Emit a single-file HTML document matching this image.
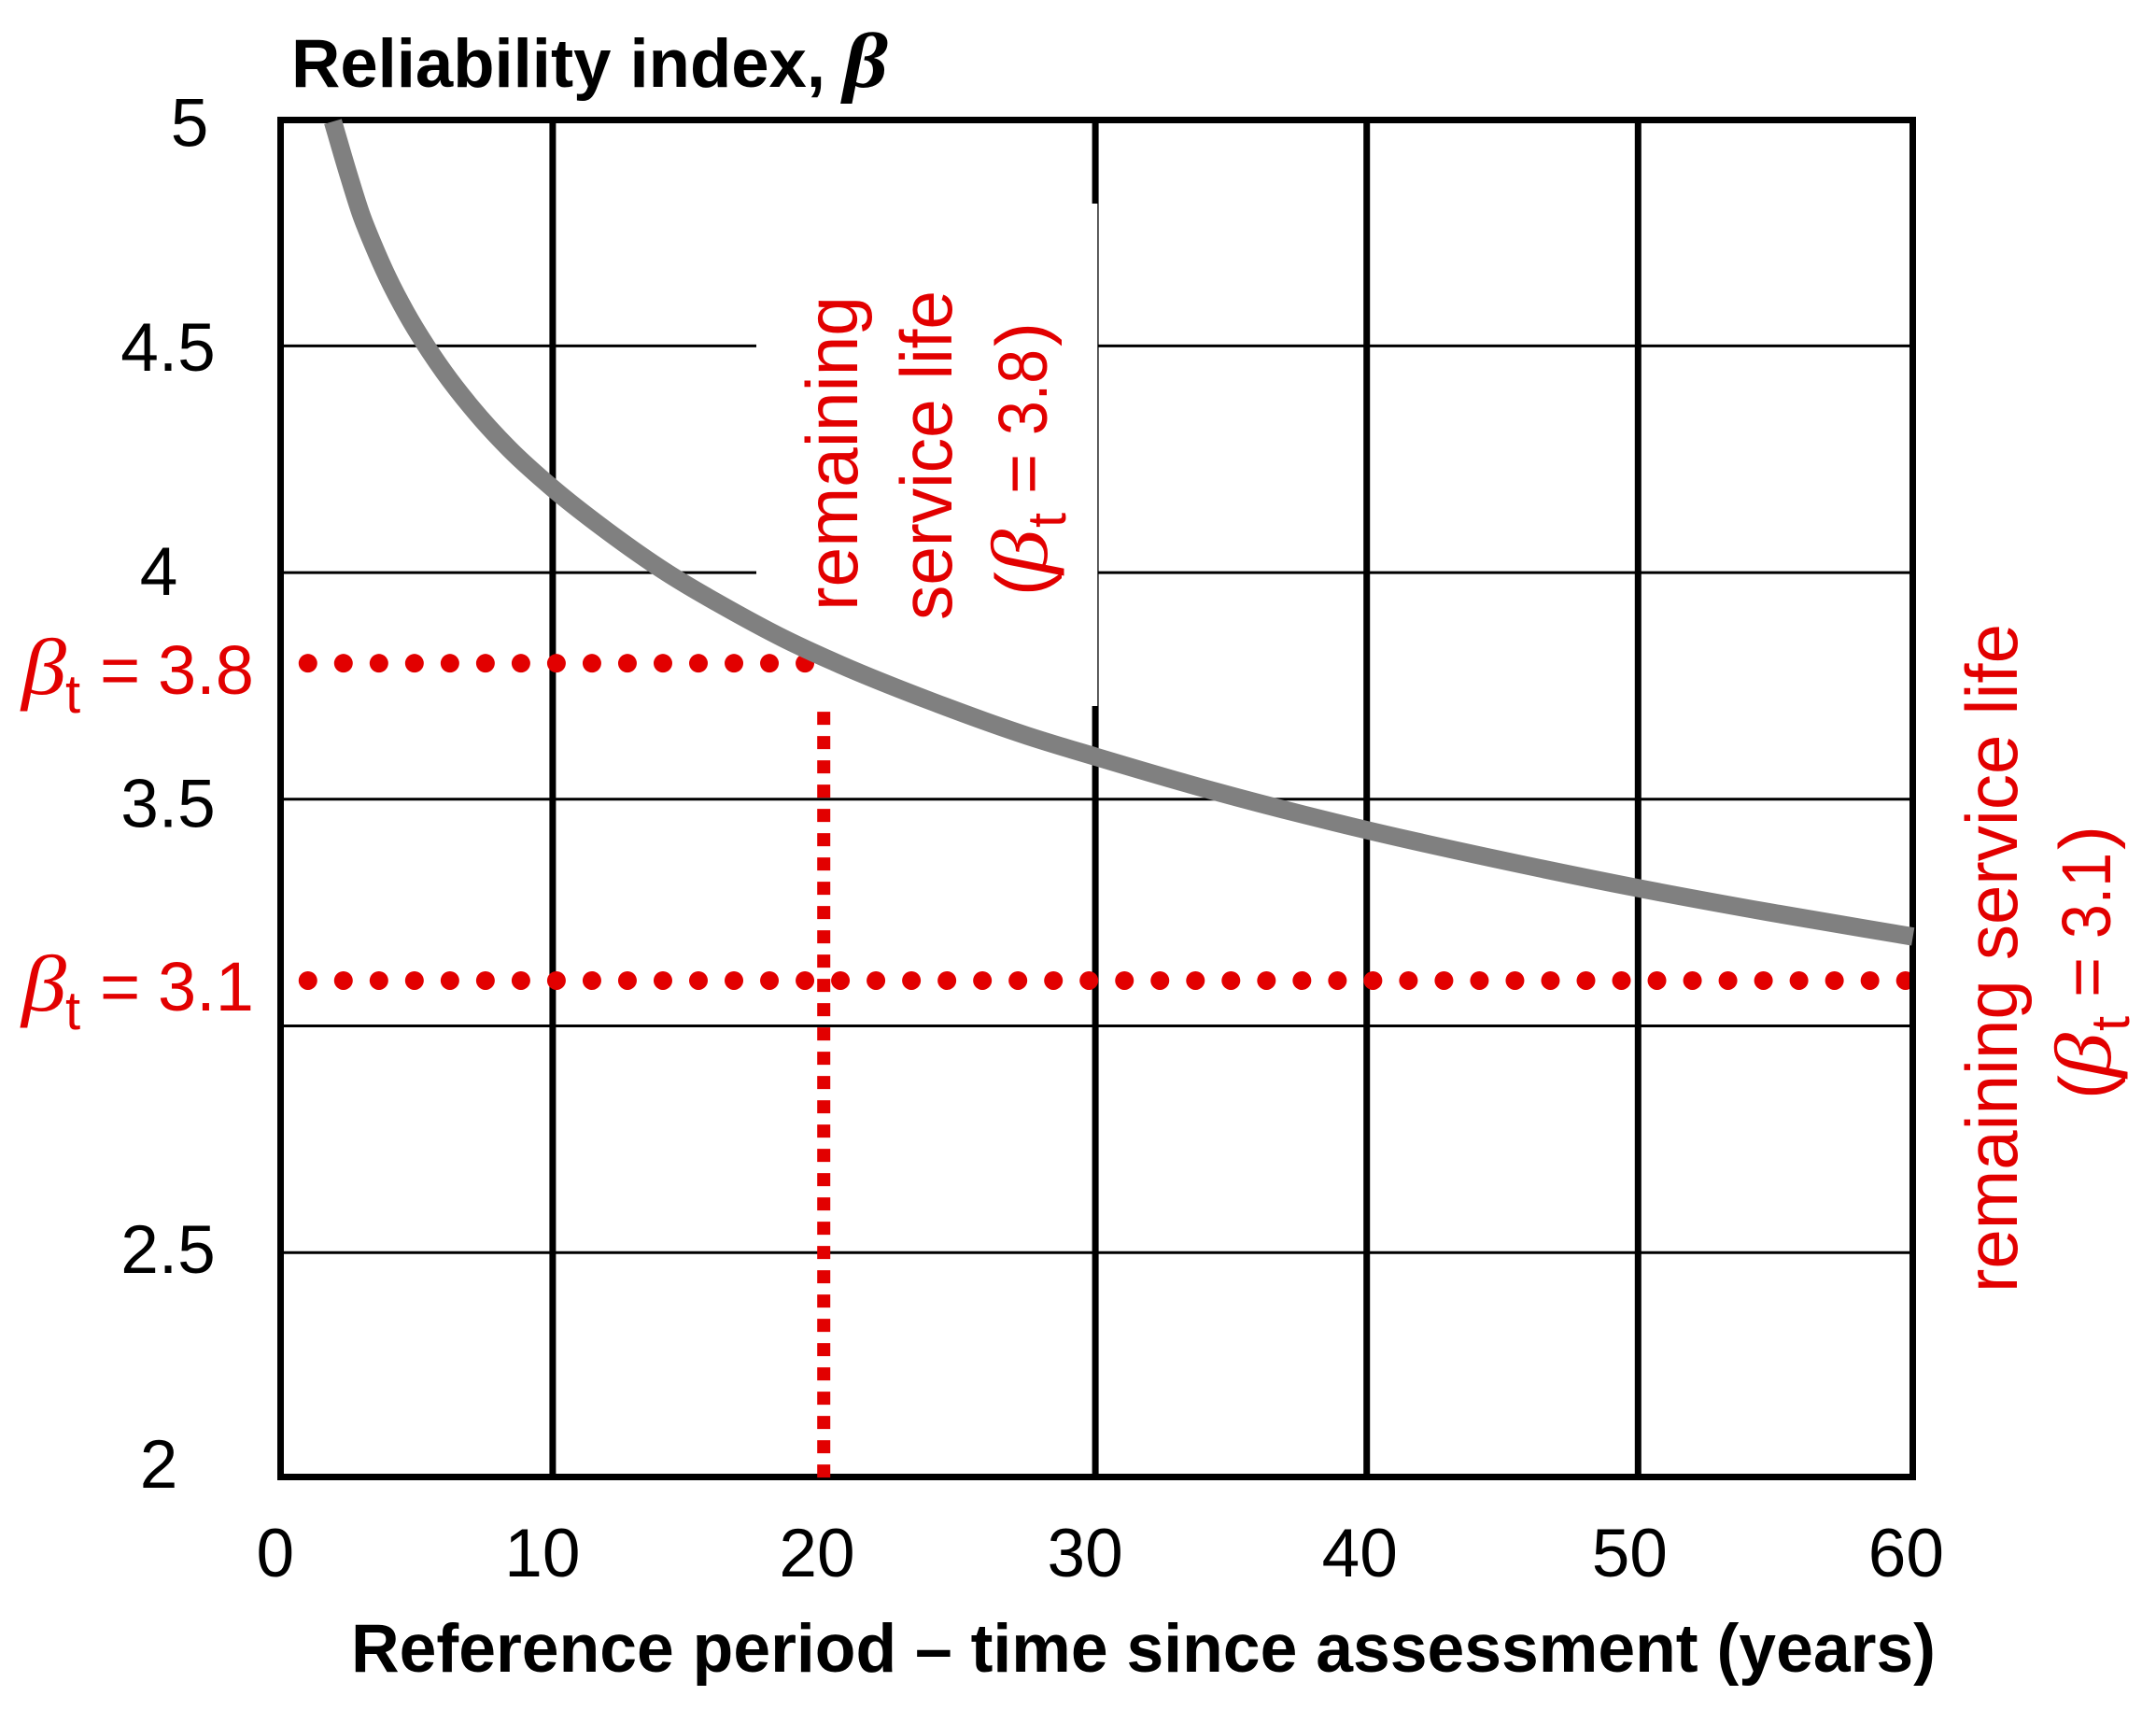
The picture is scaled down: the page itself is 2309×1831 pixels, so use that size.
<!DOCTYPE html>
<html lang="en">
<head>
<meta charset="utf-8">
<title>Reliability index chart</title>
<style>
html,body{margin:0;padding:0;background:#fff;}
svg{display:block;}
text{font-family:"Liberation Sans",sans-serif;}
.tick{font-size:73px;fill:#000;}
.title{font-size:73px;font-weight:bold;fill:#000;}
.red{fill:#e20000;}
.lab{font-size:74px;}
.rot{font-size:78px;}
.beta{font-family:"Liberation Serif",serif;font-style:italic;}
</style>
</head>
<body>
<svg id="chart" xmlns="http://www.w3.org/2000/svg" width="2309" height="1831" viewBox="0 0 2309 1831">
  <rect x="0" y="0" width="2309" height="1831" fill="#fff"/>
  <g id="grid-h"></g>
  <g id="grid-v"></g>
  <rect x="810" y="218" width="365.3" height="538" fill="#fff"/>
  <g id="thresholds"></g>
  <rect x="300.5" y="128.5" width="1748" height="1453" fill="none" stroke="#000" stroke-width="7"/>
  <g id="ticks"></g>
  <path id="drop" fill="none" stroke="#e20000" stroke-width="14" stroke-dasharray="14 12"/>
  <path id="curve" fill="none" stroke="#808080" stroke-width="19.5" stroke-linejoin="round"/>

  <g>
    <text class="title" x="312" y="93" textLength="572" lengthAdjust="spacingAndGlyphs">Reliability index,</text>
    <text class="beta" x="903" y="93" font-size="84" font-weight="bold" fill="#000" textLength="48" lengthAdjust="spacingAndGlyphs">β</text>
  </g>
  <text class="title" x="376" y="1790" textLength="1697" lengthAdjust="spacingAndGlyphs">Reference period – time since assessment (years)</text>

  <g>
    <text class="red beta" x="23" y="743" font-size="86" textLength="48" lengthAdjust="spacingAndGlyphs">β</text>
    <text class="red" x="70" y="763" font-size="58">t</text>
    <text class="red lab" x="107" y="743">=</text>
    <text class="red lab" x="169" y="743">3.8</text>
  </g>
  <g>
    <text class="red beta" x="23" y="1082" font-size="86" textLength="48" lengthAdjust="spacingAndGlyphs">β</text>
    <text class="red" x="70" y="1102" font-size="58">t</text>
    <text class="red lab" x="107" y="1082">=</text>
    <text class="red lab" x="169" y="1082">3.1</text>
  </g>

  <text class="red rot" transform="translate(918,654) rotate(-90)" textLength="337" lengthAdjust="spacingAndGlyphs">remaining</text>
  <text class="red rot" transform="translate(1019,664) rotate(-90)" textLength="353" lengthAdjust="spacingAndGlyphs">service life</text>
  <g transform="translate(1121,633) rotate(-90)">
    <text class="red rot" x="-5" y="0">(</text>
    <text class="red beta" x="18" y="0" font-size="86" textLength="48" lengthAdjust="spacingAndGlyphs">β</text>
    <text class="red" x="68" y="20" font-size="58">t</text>
    <text class="red lab" x="104" y="0">=</text>
    <text class="red lab" x="167" y="0" textLength="92" lengthAdjust="spacingAndGlyphs">3.8</text>
    <text class="red rot" x="262" y="0">)</text>
  </g>

  <text class="red rot" transform="translate(2160,1384) rotate(-90)" textLength="716" lengthAdjust="spacingAndGlyphs">remaining service life</text>
  <g transform="translate(2260,1172) rotate(-90)">
    <text class="red rot" x="-5" y="0">(</text>
    <text class="red beta" x="18" y="0" font-size="86" textLength="48" lengthAdjust="spacingAndGlyphs">β</text>
    <text class="red" x="68" y="20" font-size="58">t</text>
    <text class="red lab" x="104" y="0">=</text>
    <text class="red lab" x="167" y="0" textLength="92" lengthAdjust="spacingAndGlyphs">3.1</text>
    <text class="red rot" x="262" y="0">)</text>
  </g>
</svg>
<script>
const years = [1.9, 2.49, 2.94, 3.4, 3.92, 4.6, 5.34, 6, 7, 8.4, 10, 12, 14.2, 16.59, 18.5, 20.6, 24, 27.49, 30, 34.37, 40, 44.7, 50, 54.8, 60.13];
const betaValues = [4.995, 4.875, 4.79, 4.721, 4.651, 4.573, 4.5, 4.442, 4.365, 4.273, 4.186, 4.092, 4.0, 3.916, 3.855, 3.797, 3.715, 3.64, 3.594, 3.518, 3.432, 3.369, 3.304, 3.251, 3.197];
const xTicks = [0, 10, 20, 30, 40, 50, 60];
const xTickLabels = ['0', '10', '20', '30', '40', '50', '60'];
const yTicks = [5, 4.5, 4, 3.5, 2.5, 2];
const yTickLabels = ['5', '4.5', '4', '3.5', '2.5', '2'];
const yGrid = [4.5, 4, 3.5, 3, 2.5];
const xGrid = [10, 30, 40, 50];
const targetBetas = [3.8, 3.1];
const targetEndYears = [19.3, 59.9];
const remainingLifeYears = 19.99;
const targetStartYear = 0.98;

const NS = 'http://www.w3.org/2000/svg';
function xScale(t) { return 301.3 + t * 29.06; }
function yScale(b) { return 127.7 + (5 - b) * 485.4; }
function make(tag, parent) {
  const el = document.createElementNS(NS, tag);
  parent.appendChild(el);
  return el;
}

const gridH = document.getElementById('grid-h');
yGrid.forEach(function (v) {
  const l = make('line', gridH);
  
  
  l.setAttribute('x1', xScale(0));
  l.setAttribute('x2', 2048);
  l.setAttribute('y1', yScale(v));
  l.setAttribute('y2', yScale(v));
  l.setAttribute('stroke', '#000');
  l.setAttribute('stroke-width', '3');
});

const gridV = document.getElementById('grid-v');
xGrid.forEach(function (v) {
  const l = make('line', gridV);
  
  
  l.setAttribute('x1', xScale(v));
  l.setAttribute('x2', xScale(v));
  l.setAttribute('y1', yScale(5));
  l.setAttribute('y2', yScale(2));
  l.setAttribute('stroke', '#000');
  l.setAttribute('stroke-width', '7');
});

const ticks = document.getElementById('ticks');
function xLabelShift(t) {
  if (t === 0) return -6.5;
  if (t === 10 || t === 30) return -11;
  if (t === 50) return -9;
  if (t === 60) return -3.5;
  return -7.5;
}
xTicks.forEach(function (v, i) {
  const t = make('text', ticks);
  
  
  t.setAttribute('class', 'tick');
  t.setAttribute('text-anchor', 'middle');
  t.setAttribute('x', xScale(v) + xLabelShift(v));
  t.setAttribute('y', 1688);
  t.textContent = xTickLabels[i];
});

function yLabelX(v) {
  if (v === 5) return 203;
  if (v === 4 || v === 2) return 170;
  return 180;
}
function yLabelShift(v) {
  if (v === 5) return 29;
  if (v === 4.5) return 26.5;
  if (v === 4) return 24;
  if (v === 3.5) return 29.5;
  if (v === 2.5) return 22;
  return 9;
}
yTicks.forEach(function (v, i) {
  const t = make('text', ticks);
  
  
  t.setAttribute('class', 'tick');
  t.setAttribute('text-anchor', 'middle');
  t.setAttribute('x', yLabelX(v));
  t.setAttribute('y', yScale(v) + yLabelShift(v));
  t.textContent = yTickLabels[i];
});

const thresholds = document.getElementById('thresholds');
targetBetas.forEach(function (b, i) {
  const l = make('line', thresholds);
  
  
  l.setAttribute('x1', xScale(targetStartYear));
  l.setAttribute('x2', xScale(targetEndYears[i]));
  l.setAttribute('y1', yScale(b));
  l.setAttribute('y2', yScale(b));
  l.setAttribute('stroke', '#e20000');
  l.setAttribute('stroke-width', '20');
  l.setAttribute('stroke-linecap', 'round');
  l.setAttribute('stroke-dasharray', '0 38.02');
});

document.getElementById('drop').setAttribute('d',
  'M' + xScale(remainingLifeYears) + ' ' + (yScale(targetBetas[0]) + 52) +
  'L' + xScale(remainingLifeYears) + ' ' + yScale(2));

const px = years.map(xScale);
const py = betaValues.map(yScale);
function slope(i) {
  if (i === 0) return (py[1] - py[0]) / (px[1] - px[0]);
  const n = px.length - 1;
  if (i === n) return (py[n] - py[n - 1]) / (px[n] - px[n - 1]);
  const h0 = px[i] - px[i - 1];
  const h1 = px[i + 1] - px[i];
  const d0 = (py[i] - py[i - 1]) / h0;
  const d1 = (py[i + 1] - py[i]) / h1;
  return (h1 * d0 + h0 * d1) / (h0 + h1);
}
let d = 'M' + px[0].toFixed(1) + ' ' + py[0].toFixed(1);
for (let i = 0; i < px.length - 1; i++) {
  const h = (px[i + 1] - px[i]) / 3;
  d += 'C' + (px[i] + h).toFixed(2) + ' ' + (py[i] + slope(i) * h).toFixed(2) +
       ' ' + (px[i + 1] - h).toFixed(2) + ' ' + (py[i + 1] - slope(i + 1) * h).toFixed(2) +
       ' ' + px[i + 1].toFixed(2) + ' ' + py[i + 1].toFixed(2);
}
document.getElementById('curve').setAttribute('d', d);
</script>
</body>
</html>
